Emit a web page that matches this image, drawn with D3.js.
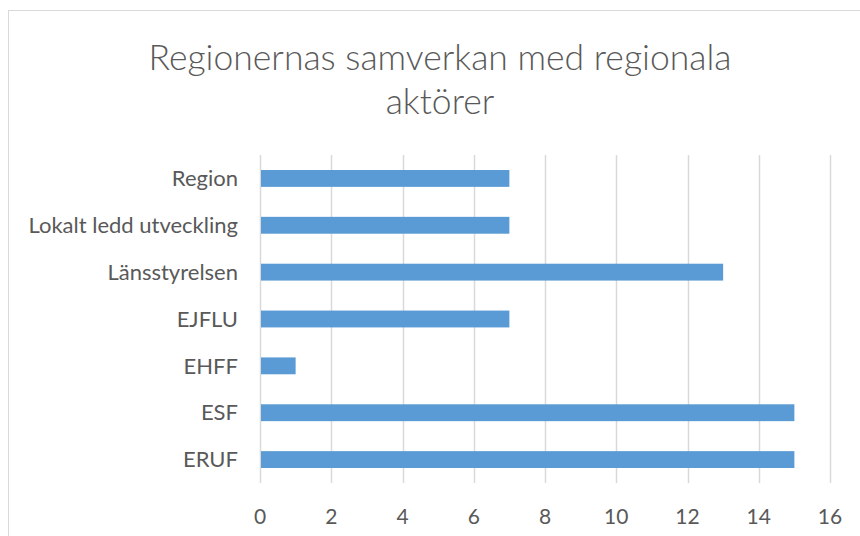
<!DOCTYPE html>
<html>
<head>
<meta charset="utf-8">
<script src="https://cdn.jsdelivr.net/npm/d3@7"></script>
<style>
  body { margin: 0; background: #fff; }
  svg { display: block; font-family: Lato, "Open Sans", sans-serif; }
</style>
</head>
<body>
<div id="chart"></div>
<script>
const titleLines = ["Regionernas samverkan med regionala", "aktörer"];
const categories = ["Region", "Lokalt ledd utveckling", "Länsstyrelsen", "EJFLU", "EHFF", "ESF", "ERUF"];
const values = [7, 7, 13, 7, 1, 15, 15];
const xTicks = [0, 2, 4, 6, 8, 10, 12, 14, 16];

const w = 860;
const h = 536;
const plotLeft = 260, plotRight = 830, plotTop = 155, plotBottom = 483;

const svg = d3.select("#chart")
  .append("svg")
  .attr("width", w)
  .attr("height", h);

// chart frame
svg.append("rect")
  .attr("x", 8.5)
  .attr("y", 10.5)
  .attr("width", w + 10)
  .attr("height", h + 10)
  .attr("fill", "none")
  .attr("stroke", "#d9d9d9");

svg.append("text")
  .attr("x", 440)
  .attr("y", 58)
  .attr("text-anchor", "middle")
  .attr("fill", "#595959")
  .attr("font-size", 35.5)
  .attr("font-weight", 300)
  .selectAll("tspan")
  .data(titleLines)
  .join("tspan")
    .attr("x", 440)
    .attr("dy", (d, i) => i === 0 ? "0.35em" : 44)
    .text(d => d);

const x = d3.scaleLinear()
  .domain([0, 16])
  .range([plotLeft, plotRight]);

const y = d3.scaleBand()
  .domain(categories)
  .range([plotTop, plotBottom])
  .paddingInner(0.64)
  .paddingOuter(0.32);

// gridlines
svg.append("g")
  .selectAll("line")
  .data(xTicks)
  .join("line")
    .attr("x1", d => Math.round(x(d)) + 0.5)
    .attr("x2", d => Math.round(x(d)) + 0.5)
    .attr("y1", plotTop)
    .attr("y2", plotBottom)
    .attr("stroke", "#d9d9d9")
    .attr("stroke-width", 1.5);

svg.append("g")
  .selectAll("rect")
  .data(values)
  .join("rect")
    .attr("x", x(0) + 1)
    .attr("y", (d, i) => y(categories[i]))
    .attr("width", d => x(d) - x(0) - 1)
    .attr("height", y.bandwidth())
    .attr("fill", "#5b9bd5");

// category labels
svg.append("g")
  .selectAll("text")
  .data(categories)
  .join("text")
    .attr("x", 238)
    .attr("y", d => y(d) + y.bandwidth() / 2)
    .attr("dy", "0.35em")
    .attr("text-anchor", "end")
    .attr("fill", "#595959")
    .attr("font-size", 22)
    .text(d => d);

// tick labels
svg.append("g")
  .selectAll("text")
  .data(xTicks)
  .join("text")
    .attr("x", d => x(d))
    .attr("y", 517)
    .attr("dy", "0.35em")
    .attr("text-anchor", "middle")
    .attr("fill", "#595959")
    .attr("font-size", 21)
    .text(d => d);
</script>
</body>
</html>
